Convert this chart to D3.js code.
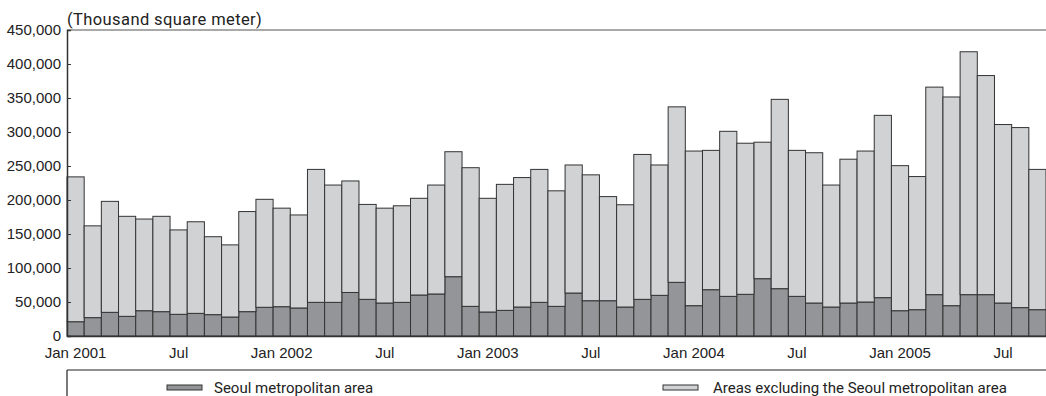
<!DOCTYPE html>
<html><head><meta charset="utf-8">
<script src="https://cdn.jsdelivr.net/npm/d3@7"></script>
<style>body{margin:0;background:#fff;}svg{display:block;font-family:Roboto, "DejaVu Sans", sans-serif;}</style>
</head><body>
<svg id="chart" width="1046" height="396"></svg>
<script>
const months = [];
for (let y = 2001; y <= 2005; y++) for (let m = 1; m <= 12; m++) { if (y === 2005 && m > 9) break; months.push(y + "-" + String(m).padStart(2, "0")); }
const seoul = [21000,27000,34800,28900,37200,35800,31900,33300,31400,27900,35800,42200,
  43100,41200,49500,49500,64000,53900,48500,49500,60300,61800,87200,43600,
  35300,37700,42600,49500,43600,63200,51900,51900,42600,53900,59800,78900,
  44600,68100,58300,61300,84300,69600,58300,48500,42600,48500,50000,56400,
  37200,38700,60800,44600,60800,60800,48500,41700,38700];
const totals = [234000,162000,198000,176000,172000,176000,156000,168000,146000,134000,183000,201000,
  188000,178000,245000,222000,228000,193500,188000,191500,202500,222000,271000,247500,
  202500,223000,233000,245000,213500,251500,237000,205000,193000,267000,251500,337000,
  272000,273000,301000,283500,285000,348000,273000,269500,222000,260000,272000,324500,
  250500,234500,366000,351500,418000,383000,311000,306500,245000];
const others = totals.map((t, i) => t - seoul[i]);
const yTicks = [0,50000,100000,150000,200000,250000,300000,350000,400000,450000];
const xTickMonths = ["2001-01","2001-07","2002-01","2002-07","2003-01","2003-07","2004-01","2004-07","2005-01","2005-07"];
const xTickLabels = ["Jan 2001","Jul","Jan 2002","Jul","Jan 2003","Jul","Jan 2004","Jul","Jan 2005","Jul"];
const seriesNames = ["Seoul metropolitan area","Areas excluding the Seoul metropolitan area"];
const unitLabel = "(Thousand square meter)";

const svg = d3.select("#chart");
const L = 67, R = 1046, T = 30, B = 336;
const x = d3.scaleBand().domain(months).range([L, R]).padding(0);
const y = d3.scaleLinear().domain([0, 450000]).range([B, T]);
const colors = ["#939598", "#d1d2d4"];

// top border
svg.append("line").attr("x1", L).attr("x2", R).attr("y1", T).attr("y2", T).attr("stroke", "#8c8c8c").attr("stroke-width", 1.5);

const stackData = months.map((m, i) => ({m, seoul: seoul[i], other: others[i]}));
const stack = d3.stack().keys(["seoul", "other"])(stackData);
stack.forEach((layer, li) => {
  svg.append("g").selectAll("rect").data(layer).join("rect")
    .attr("x", d => x(d.data.m))
    .attr("width", x.bandwidth())
    .attr("y", d => y(d[1]))
    .attr("height", d => y(d[0]) - y(d[1]))
    .attr("fill", colors[li])
    .attr("stroke", "#333")
    .attr("stroke-width", 1);
});

// y axis
const yAxis = d3.axisLeft(y).tickValues(yTicks).tickSize(-4).tickPadding(6).tickFormat(d3.format(","));
const gy = svg.append("g").attr("transform", `translate(${L},0)`).call(yAxis);
gy.select(".domain").attr("stroke", "#333").attr("stroke-width", 1.5);
gy.selectAll(".tick line").attr("stroke", "#333");
gy.selectAll("text").attr("font-size", 15).attr("fill", "#222");

// x axis
const xAxis = d3.axisBottom(x).tickValues(xTickMonths).tickSize(0).tickPadding(11)
  .tickFormat(d => xTickLabels[xTickMonths.indexOf(d)]);
const gx = svg.append("g").attr("transform", `translate(0,${B})`).call(xAxis);
gx.select(".domain").attr("stroke", "#333").attr("stroke-width", 1.5);
gx.selectAll("text").attr("font-size", 15).attr("fill", "#222");

// unit label
svg.append("text").attr("x", L).attr("y", 25).attr("font-size", 16.5).attr("letter-spacing", 0.4).attr("fill", "#222").text(unitLabel);

// legend frame
svg.append("line").attr("x1", L).attr("x2", R).attr("y1", 370).attr("y2", 370).attr("stroke", "#222").attr("stroke-width", 1.2);
svg.append("line").attr("x1", L).attr("x2", L).attr("y1", 370).attr("y2", 396).attr("stroke", "#222").attr("stroke-width", 1.2);
const legendPos = [{sx: 167, tx: 214}, {sx: 663, tx: 713}];
seriesNames.forEach((n, i) => {
  svg.append("rect").attr("x", legendPos[i].sx).attr("y", 385).attr("width", 35).attr("height", 5)
    .attr("fill", colors[i]).attr("stroke", "#333").attr("stroke-width", 1);
  svg.append("text").attr("x", legendPos[i].tx).attr("y", 393).attr("font-size", 15).attr("fill", "#222").text(n);
});
</script>
</body></html>
